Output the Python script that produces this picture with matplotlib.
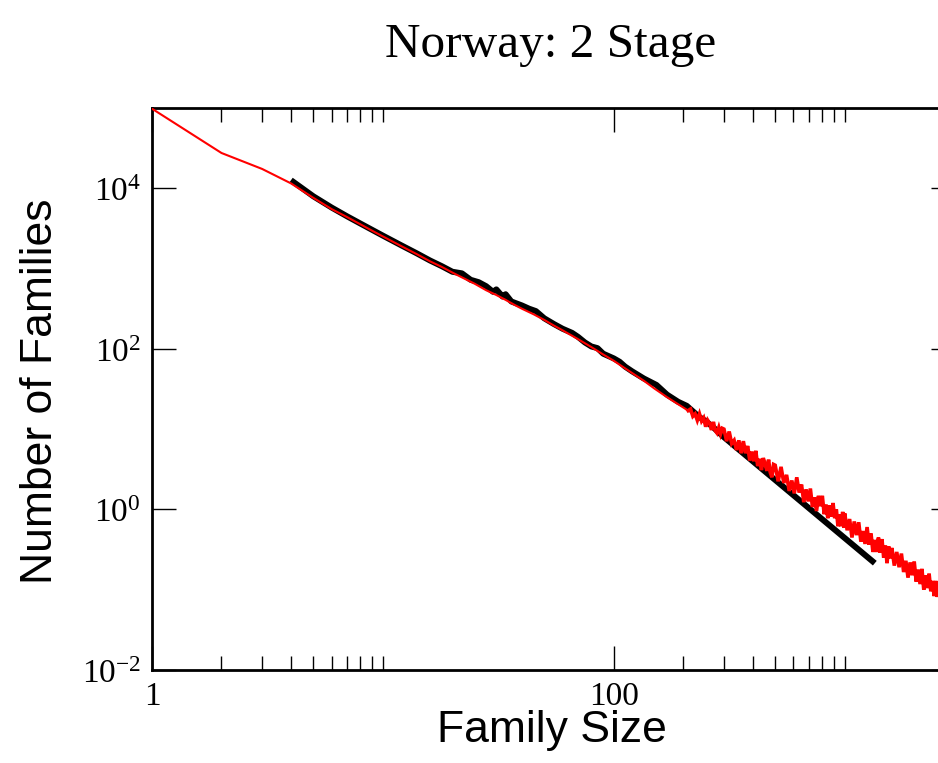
import matplotlib
matplotlib.use("Agg")
import matplotlib.pyplot as plt
import numpy as np
from matplotlib.ticker import FixedLocator, FixedFormatter, NullFormatter

plt.rcParams['mathtext.fontset'] = 'custom'
plt.rcParams['mathtext.rm'] = 'Liberation Serif'
plt.rcParams['mathtext.it'] = 'Liberation Serif:italic'

# red curve (2 stage model), smooth part
red_size = [1, 2, 3, 4, 5, 6, 7, 8, 9, 10, 12, 14, 16, 18, 20, 22, 25, 28, 31, 34, 37, 40,
            45, 50, 55, 60, 70, 80, 90, 100, 110, 120, 135, 150, 170, 190, 210]
red_count = [98000, 27500, 17400, 11500, 7590, 5500, 4370, 3550, 2950, 2510, 1905, 1514,
             1230, 1047, 891, 776, 646, 537, 468, 407, 355, 316, 269, 229, 195, 170, 132,
             105, 85, 71, 59, 50, 40, 32, 25, 20.4, 17]

tail_size = [215, 220, 225, 230, 235, 240, 245, 250, 255, 260, 265, 270, 275, 280, 285, 290, 295,
             300, 308, 316, 324, 332, 340, 348, 356, 364, 372, 380, 388, 396, 404, 412, 420,
             428, 436, 444, 452, 460, 468, 476, 484, 492,
             500, 515, 530, 545, 560, 575, 590, 605, 620, 635, 650, 665, 680, 695, 710, 725,
             740, 755, 770, 785, 800, 815, 830, 845, 860, 875, 890, 905, 920, 935, 950, 965,
             980, 995,
             1000, 1025, 1050, 1075, 1100, 1125, 1150, 1175, 1200, 1225, 1250, 1275, 1300,
             1325, 1350, 1375, 1400, 1425, 1450, 1475, 1500, 1525, 1550, 1575, 1600,
             1640, 1680, 1720, 1760, 1800, 1840, 1880, 1920, 1960, 2000, 2040, 2080, 2120,
             2160, 2200, 2240, 2280, 2320, 2360, 2400, 2440, 2480, 2520, 2560, 2600, 2640, 2680]
tail_log_count = [1.25, 1.16, 1.19, 1.11, 1.19, 1.10, 1.14, 1.03, 1.11, 1.07, 0.99, 1.09, 0.98,
                  0.95, 1.02, 0.94, 1.01,
                  1.00, 0.85, 0.97, 0.82, 0.86, 0.74, 0.86, 0.70, 0.85, 0.70, 0.79, 0.61, 0.72,
                  0.60, 0.73, 0.54, 0.63, 0.49, 0.64, 0.57, 0.48, 0.62, 0.46, 0.40, 0.56,
                  0.55, 0.35, 0.53, 0.33, 0.43, 0.23, 0.36, 0.20, 0.40, 0.21, 0.31, 0.09, 0.25,
                  0.10, 0.26, 0.03, 0.15, -0.02, 0.17, 0.04, 0.17, -0.06, 0.06, -0.11, 0.05,
                  -0.09, 0.08, -0.11, 0.00, -0.21, -0.06, -0.21, -0.03, -0.23,
                  -0.05, -0.26, -0.12, -0.35, -0.15, -0.32, -0.16, -0.40, -0.27, -0.43, -0.22,
                  -0.44, -0.30, -0.53, -0.38, -0.53, -0.35, -0.54, -0.37, -0.60, -0.45, -0.67,
                  -0.46, -0.61, -0.48,
                  -0.70, -0.53, -0.72, -0.55, -0.78, -0.64, -0.85, -0.66, -0.82, -0.65, -0.90,
                  -0.75, -0.93, -0.74, -1.00, -0.82, -0.98, -0.80, -1.02, -0.89, -1.08, -0.89,
                  -1.09, -0.94, -1.11, -0.94, -1.13]

# black curve (data)
black_size = [4, 5, 6, 7, 8, 10, 12, 14, 16, 18, 20, 22, 24, 26, 28, 30, 31, 33, 34, 36, 40,
              43, 46, 50, 55, 60, 66, 70, 75, 80, 85, 90, 100, 106, 112, 120, 135, 153, 170,
              190, 207, 235, 250, 268, 300, 1350]
black_count = [12600, 7940, 5750, 4470, 3630, 2570, 1950, 1550, 1260, 1070, 912, 871, 724,
               676, 603, 513, 550, 447, 479, 389, 347, 316, 295, 240, 204, 178, 158, 141,
               120, 107, 102, 87, 76, 69, 60, 52.5, 42.7, 35.5, 26.9, 21.9, 19.5, 14.1, 12.6,
               10.7, 7.94, 0.214]

x_major = [1, 100]
x_minor = [2, 3, 4, 5, 6, 7, 8, 9, 10, 200, 300, 400, 500, 600, 700, 800, 900, 1000]
y_major = [1e-2, 1, 1e2, 1e4]
y_labels = [r'$10^{-2}$', r'$10^{0}$', r'$10^{2}$', r'$10^{4}$']

fig = plt.figure(figsize=(9.38, 7.63), dpi=100)
# right spine sits just past the picture edge, as in the original
ax = fig.add_axes([0.162, 0.1219, 0.856, 0.7366])

ax.plot(black_size, black_count, color='black', lw=4.3, solid_capstyle='butt', zorder=2)
ax.plot(red_size, red_count, color='red', lw=1.5, zorder=3)
# the scattered tail reads as a thick red band
tail_count = list(10 ** np.array(tail_log_count))
ax.plot(red_size[-1:] + tail_size, red_count[-1:] + tail_count, color='red', lw=2.6,
        solid_joinstyle='miter', zorder=3)

ax.set_xscale('log')
ax.set_yscale('log')
ax.set_xlim(1, 3000)
ax.set_ylim(1e-2, 1e5)

ax.xaxis.set_major_locator(FixedLocator(x_major))
ax.xaxis.set_major_formatter(FixedFormatter(['1', '100']))
ax.xaxis.set_minor_locator(FixedLocator(x_minor))
ax.xaxis.set_minor_formatter(NullFormatter())
ax.yaxis.set_major_locator(FixedLocator(y_major))
ax.yaxis.set_major_formatter(FixedFormatter(y_labels))
ax.yaxis.set_minor_locator(FixedLocator([]))

ax.tick_params(which='major', direction='in', length=17, width=1, top=True, right=True,
               labelsize=24, pad=8)
ax.tick_params(which='minor', direction='in', length=10, width=1, top=True, right=True)
for lab in ax.get_xticklabels():
    lab.set_family('Liberation Serif')
for sp in ax.spines.values():
    sp.set_linewidth(2)

fig.text(551 / 938, 1 - 45 / 763, 'Norway: 2 Stage', ha='center', va='center',
         fontsize=35.5, family='Liberation Serif')
fig.text(552 / 938, 1 - 742 / 763, 'Family Size', ha='center', va='baseline',
         fontsize=32, family='Liberation Sans')
fig.text(40 / 938, 1 - 391 / 763, 'Number of Families', ha='center', va='center',
         rotation=90, fontsize=32, family='Liberation Sans')

fig.savefig('out.png', dpi=100)
